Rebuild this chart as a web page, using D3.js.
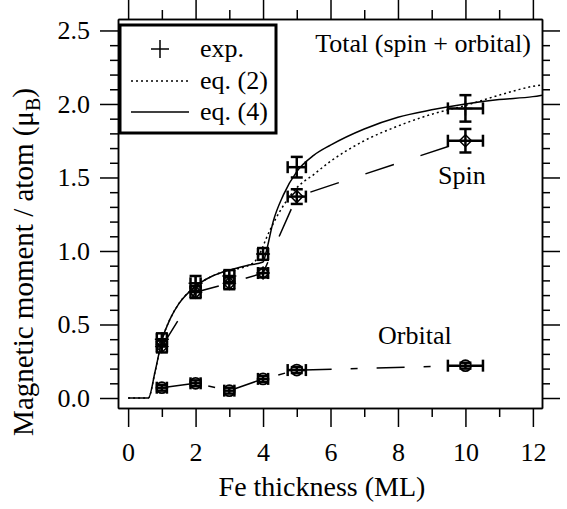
<!DOCTYPE html>
<html>
<head>
<meta charset="utf-8">
<script src="https://cdn.jsdelivr.net/npm/d3@7"></script>
</head>
<body style="margin:0">
<script>
// measured points (Fe thickness in ML)
var thickness = [1, 2, 3, 4, 5, 10];
var thicknessErr = [0.15, 0.15, 0.15, 0.15, 0.27, 0.52];

var totalMoment = [0.40, 0.78, 0.83, 0.98, 1.57, 1.97];
var totalErr = [0.04, 0.05, 0.04, 0.04, 0.07, 0.09];

var spinMoment = [0.35, 0.72, 0.78, 0.85, 1.37, 1.75];
var spinErr = [0.04, 0.04, 0.04, 0.03, 0.05, 0.08];

var orbitalMoment = [0.07, 0.10, 0.05, 0.13, 0.19, 0.22];
var orbitalErr = [0.02, 0.02, 0.02, 0.02, 0.02, 0.02];

// model curves
var eq2X = [0, 0.6, 0.8, 1, 1.25, 1.5, 2, 2.5, 3, 3.5, 3.8, 4.2, 4.5, 5, 5.5, 6, 7, 8, 9, 10, 11, 12, 12.27];
var eq2Y = [0, 0, 0.18, 0.39, 0.54, 0.64, 0.76, 0.83, 0.87, 0.895, 0.94, 1.14, 1.27, 1.43, 1.52, 1.61, 1.75, 1.85, 1.93, 1.99, 2.06, 2.12, 2.13];

var eq4X = [0, 0.6, 0.8, 1, 1.25, 1.5, 2, 2.5, 3, 3.5, 4, 4.1, 4.3, 4.6, 5, 5.5, 6, 7, 8, 9, 10, 11, 12, 12.27];
var eq4Y = [0, 0, 0.18, 0.39, 0.54, 0.64, 0.76, 0.83, 0.87, 0.90, 0.925, 1.0, 1.2, 1.38, 1.54, 1.65, 1.72, 1.83, 1.91, 1.96, 2.0, 2.03, 2.05, 2.06];

var xMajor = [0, 2, 4, 6, 8, 10, 12];
var xMinor = [1, 3, 5, 7, 9, 11];
var yMajor = [0, 0.5, 1.0, 1.5, 2.0, 2.5];
var yMinor = d3.range(0, 26).map(function(i){ return i / 10; }).filter(function(v, i){ return i % 5 != 0; });

var FONT = "Liberation Serif";
var width = 567, height = 509;
var margin = {top: 19, right: 25, bottom: 101, left: 118};

var svg = d3.select("body").append("svg")
  .attr("width", width)
  .attr("height", height)
  .attr("font-family", FONT);

var x = d3.scaleLinear().domain([-0.3, 12.27]).range([margin.left, width - margin.right]);
var y = d3.scaleLinear().domain([-0.068, 2.578]).range([height - margin.bottom, margin.top]);

var plotBottom = height - margin.bottom, plotTop = margin.top;
var plotLeft = margin.left, plotRight = width - margin.right;

function addText(parent, size){
  return parent.append("text")
    .attr("font-family", FONT).attr("font-size", size)
    .style("font-family", FONT).style("font-size", size + "px");
}

// axes: major + minor ticks on all four sides, ticks pointing outward
function styleAxis(g){
  g.attr("font-family", FONT).attr("font-size", 26);
  g.selectAll("path").attr("stroke", "#000").attr("stroke-width", 1.5);
  g.selectAll("line").attr("stroke", "#000").attr("stroke-width", 1.5);
  g.selectAll("text").attr("font-family", FONT)
    .style("font-family", FONT).style("font-size", "26px");
}

svg.append("g").attr("transform", "translate(0," + plotBottom + ")")
  .call(d3.axisBottom(x).tickValues(xMajor).tickSize(19).tickPadding(16).tickSizeOuter(0))
  .call(styleAxis);
svg.append("g").attr("transform", "translate(0," + plotBottom + ")")
  .call(d3.axisBottom(x).tickValues(xMinor).tickSize(9).tickFormat("").tickSizeOuter(0))
  .call(styleAxis);
svg.append("g").attr("transform", "translate(0," + plotTop + ")")
  .call(d3.axisTop(x).tickValues(xMajor).tickSize(19).tickFormat("").tickSizeOuter(0))
  .call(styleAxis);
svg.append("g").attr("transform", "translate(0," + plotTop + ")")
  .call(d3.axisTop(x).tickValues(xMinor).tickSize(9).tickFormat("").tickSizeOuter(0))
  .call(styleAxis);

svg.append("g").attr("transform", "translate(" + plotLeft + ",0)")
  .call(d3.axisLeft(y).tickValues(yMajor).tickSize(18).tickPadding(10).tickFormat(d3.format(".1f")).tickSizeOuter(0))
  .call(styleAxis);
svg.append("g").attr("transform", "translate(" + plotLeft + ",0)")
  .call(d3.axisLeft(y).tickValues(yMinor).tickSize(8).tickFormat("").tickSizeOuter(0))
  .call(styleAxis);
svg.append("g").attr("transform", "translate(" + plotRight + ",0)")
  .call(d3.axisRight(y).tickValues(yMajor).tickSize(18).tickFormat("").tickSizeOuter(0))
  .call(styleAxis);
svg.append("g").attr("transform", "translate(" + plotRight + ",0)")
  .call(d3.axisRight(y).tickValues(yMinor).tickSize(8).tickFormat("").tickSizeOuter(0))
  .call(styleAxis);

// axis titles
addText(svg, 28)
  .attr("x", 322).attr("y", 496)
  .attr("text-anchor", "middle")
  .text("Fe thickness (ML)");

var yTitle = addText(svg, 29)
  .attr("transform", "translate(33,262) rotate(-90)")
  .attr("text-anchor", "middle");
yTitle.append("tspan").text("Magnetic moment / atom (\u03bc");
yTitle.append("tspan").attr("dy", 7).style("font-size", "20px").text("B");
yTitle.append("tspan").attr("dy", -7).text(")");

// curves
var line = d3.line()
  .x(function(d){ return x(d[0]); })
  .y(function(d){ return y(d[1]); });

var plot = svg.append("g");

plot.append("path")
  .datum(d3.zip(eq2X, eq2Y))
  .attr("d", line.curve(d3.curveMonotoneX))
  .attr("fill", "none").attr("stroke", "#000")
  .attr("stroke-width", 1.5).attr("stroke-dasharray", "2,3");

plot.append("path")
  .datum(d3.zip(eq4X, eq4Y))
  .attr("d", line.curve(d3.curveMonotoneX))
  .attr("fill", "none").attr("stroke", "#000")
  .attr("stroke-width", 1.5);

// spin and orbital points joined by dashed lines
plot.append("path")
  .datum(d3.zip(thickness, spinMoment))
  .attr("d", line.curve(d3.curveLinear))
  .attr("fill", "none").attr("stroke", "#000")
  .attr("stroke-width", 1.5).attr("stroke-dasharray", "30,28");

plot.append("path")
  .datum(d3.zip(thickness, orbitalMoment))
  .attr("d", line.curve(d3.curveLinear))
  .attr("fill", "none").attr("stroke", "#000")
  .attr("stroke-width", 1.5).attr("stroke-dasharray", "28,19,7,19");

// error bars with caps
function errorBars(values, errs){
  var cap = 6;
  var g = plot.append("g").attr("stroke", "#000").attr("stroke-width", 2.5);
  thickness.forEach(function(t, i){
    var cx = x(t), cy = y(values[i]);
    var y0 = y(values[i] - errs[i]), y1 = y(values[i] + errs[i]);
    var x0 = x(t - thicknessErr[i]), x1 = x(t + thicknessErr[i]);
    g.append("line").attr("x1", cx).attr("x2", cx).attr("y1", y0).attr("y2", y1);
    g.append("line").attr("x1", cx - cap).attr("x2", cx + cap).attr("y1", y0).attr("y2", y0);
    g.append("line").attr("x1", cx - cap).attr("x2", cx + cap).attr("y1", y1).attr("y2", y1);
    g.append("line").attr("x1", x0).attr("x2", x1).attr("y1", cy).attr("y2", cy);
    g.append("line").attr("x1", x0).attr("x2", x0).attr("y1", cy - cap).attr("y2", cy + cap);
    g.append("line").attr("x1", x1).attr("x2", x1).attr("y1", cy - cap).attr("y2", cy + cap);
  });
}
errorBars(totalMoment, totalErr);
errorBars(spinMoment, spinErr);
errorBars(orbitalMoment, orbitalErr);

// markers
plot.selectAll(".spin-mark")
  .data(d3.zip(thickness, spinMoment))
  .enter().append("path")
  .attr("class", "spin-mark")
  .attr("d", "M0,-6L6,0L0,6L-6,0Z")
  .attr("transform", function(d){ return "translate(" + x(d[0]) + "," + y(d[1]) + ")"; })
  .attr("fill", "none").attr("stroke", "#000").attr("stroke-width", 1.5);

plot.selectAll(".orb-mark")
  .data(d3.zip(thickness, orbitalMoment))
  .enter().append("circle")
  .attr("class", "orb-mark")
  .attr("cx", function(d){ return x(d[0]); })
  .attr("cy", function(d){ return y(d[1]); })
  .attr("r", 5.5)
  .attr("fill", "none").attr("stroke", "#000").attr("stroke-width", 1.8);

plot.selectAll(".tot-mark")
  .data(d3.zip(thickness, totalMoment))
  .enter().append("path")
  .attr("class", "tot-mark")
  .attr("d", "M-7,0H7M0,-7V7")
  .attr("transform", function(d){ return "translate(" + x(d[0]) + "," + y(d[1]) + ")"; })
  .attr("fill", "none").attr("stroke", "#000").attr("stroke-width", 1.5);

// annotations
addText(svg, 26).attr("x", 531).attr("y", 52).attr("text-anchor", "end")
  .text("Total (spin + orbital)");
addText(svg, 26).attr("x", 438).attr("y", 184).text("Spin");
addText(svg, 26).attr("x", 378).attr("y", 344).text("Orbital");

// legend
var legend = svg.append("g");
legend.append("rect")
  .attr("x", 120).attr("y", 25).attr("width", 156).attr("height", 108)
  .attr("fill", "#fff").attr("stroke", "#000").attr("stroke-width", 3);
legend.append("path").attr("d", "M151,49H169M160,40V58")
  .attr("stroke", "#000").attr("stroke-width", 1.5);
legend.append("line").attr("x1", 131).attr("x2", 189).attr("y1", 81).attr("y2", 81)
  .attr("stroke", "#000").attr("stroke-width", 1.5).attr("stroke-dasharray", "2,3");
legend.append("line").attr("x1", 131).attr("x2", 189).attr("y1", 112).attr("y2", 112)
  .attr("stroke", "#000").attr("stroke-width", 1.5);
var legendLabels = ["exp.", "eq. (2)", "eq. (4)"];
var legendBase = [57, 89, 120];
legendLabels.forEach(function(d, i){
  addText(legend, 26).attr("x", 200).attr("y", legendBase[i]).text(d);
});
</script>
</body>
</html>
